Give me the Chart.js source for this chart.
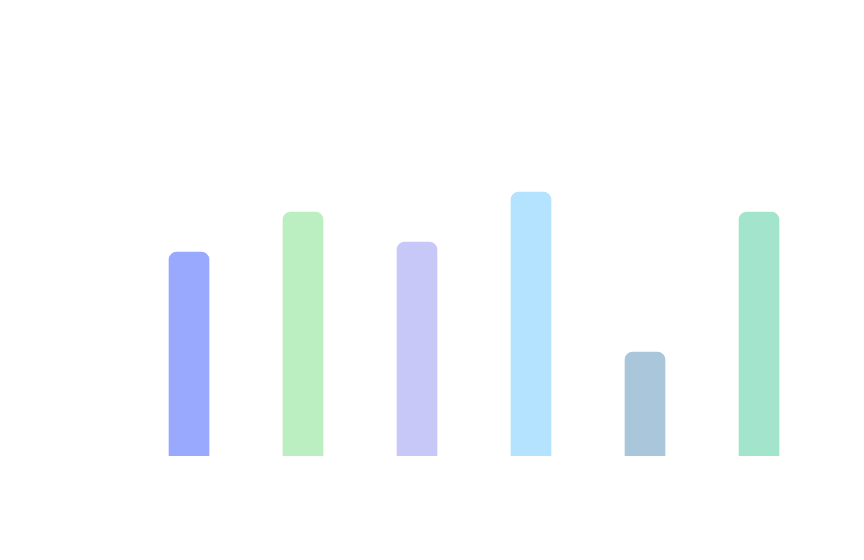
<!DOCTYPE html>
<html>
<head>
<meta charset="utf-8">
<title>Bar chart</title>
<script src="https://cdn.jsdelivr.net/npm/chart.js@4/dist/chart.umd.min.js"></script>
<style>
  html, body { margin: 0; padding: 0; background: #ffffff; }
  #wrap { width: 864px; height: 560px; position: relative; }
</style>
</head>
<body>
<div id="wrap"><canvas id="barChart"></canvas></div>
<script>
// data
const categories = ["A", "B", "C", "D", "E", "F"];
const values = [51, 61, 53.5, 66, 26, 61];
const barColors = ["#99a9fe", "#bbeec0", "#c7c7f8", "#b3e3ff", "#aac6da", "#a3e4cd"];
const yMax = 100;

document.addEventListener("DOMContentLoaded", function () {
  const ctx = document.getElementById("barChart");
  new Chart(ctx, {
    type: "bar",
    data: {
      labels: categories,
      datasets: [{
        data: values,
        backgroundColor: barColors,
        borderWidth: 0,
        borderRadius: 8,
        barThickness: 40
      }]
    },
    options: {
      responsive: true,
      maintainAspectRatio: false,
      animation: false,
      layout: {
        padding: { left: 132, right: 48, top: 56, bottom: 104 }
      },
      plugins: {
        legend: { display: false },
        tooltip: { enabled: false }
      },
      scales: {
        x: { display: false },
        y: { display: false, min: 0, max: yMax }
      }
    }
  });
});
</script>
</body>
</html>
